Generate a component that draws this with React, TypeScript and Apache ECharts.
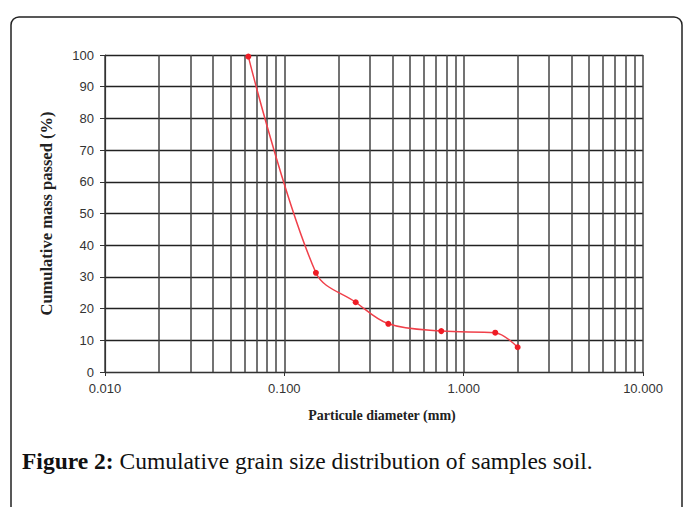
import React, { useEffect, useRef } from "react";
import * as echarts from "echarts";

const diameters = [0.063, 0.15, 0.25, 0.38, 0.75, 1.5, 2.0];
const passed = [99.5, 31.3, 22.0, 15.2, 12.9, 12.4, 7.8];
const minorGridValues = [
  0.02, 0.03, 0.04, 0.05, 0.06, 0.07, 0.08, 0.09,
  0.2, 0.3, 0.4, 0.5, 0.6, 0.7, 0.8, 0.9,
  2, 3, 4, 5, 6, 7, 8, 9,
];
const xAxisTitle = "Particule diameter (mm)";
const yAxisTitle = "Cumulative mass passed (%)";
const captionBold = "Figure 2:";
const captionText = " Cumulative grain size distribution of samples soil.";

export default function App() {
  const ref = useRef<HTMLDivElement>(null);
  useEffect(() => {
    if (!ref.current) return;
    const chart = echarts.init(ref.current, null, { renderer: "svg" });
    chart.setOption({
      animation: false,
      backgroundColor: "#fff",
      grid: { left: 105, right: 40, top: 55, bottom: 135 },
      xAxis: {
        type: "log",
        logBase: 10,
        min: 0.01,
        max: 10,
        name: xAxisTitle,
        nameLocation: "middle",
        nameGap: 36,
        nameTextStyle: {
          fontFamily: "Liberation Serif",
          fontWeight: "bold",
          fontSize: 14,
          color: "#222",
          padding: [0, 0, 0, 16],
        },
        axisLine: { show: true, lineStyle: { color: "#333", width: 1.2 } },
        axisTick: { show: true, length: 4, lineStyle: { color: "#333" } },
        axisLabel: {
          formatter: (v: number) => v.toFixed(3),
          fontFamily: "Liberation Sans",
          fontSize: 13,
          color: "#333",
          margin: 10,
        },
        splitLine: { show: true, lineStyle: { color: "#444", width: 1.5 } },
      },
      yAxis: {
        type: "value",
        min: 0,
        max: 100,
        interval: 10,
        name: yAxisTitle,
        nameLocation: "middle",
        nameGap: 50,
        nameTextStyle: {
          fontFamily: "Liberation Serif",
          fontWeight: "bold",
          fontSize: 16.5,
          color: "#222",
        },
        axisLine: { show: true, lineStyle: { color: "#333", width: 1.2 } },
        axisTick: { show: true, length: 5, lineStyle: { color: "#333" } },
        axisLabel: {
          fontFamily: "Liberation Sans",
          fontSize: 13,
          color: "#333",
          margin: 11,
        },
        splitLine: { show: true, lineStyle: { color: "#222", width: 1.3 } },
      },
      series: [
        {
          type: "line",
          data: diameters.map((d, i) => [d, passed[i]]),
          smooth: 0.35,
          symbol: "circle",
          symbolSize: 6,
          lineStyle: { color: "#f0404a", width: 1.5 },
          itemStyle: { color: "#ee1c25" },
          z: 5,
          markLine: {
            silent: true,
            symbol: "none",
            label: { show: false },
            lineStyle: { color: "#444", width: 1.5, type: "solid" },
            data: minorGridValues.map((v) => ({ xAxis: v })),
            z: 1,
          },
        },
      ],
      graphic: [
        {
          type: "rect",
          shape: { x: 11, y: 17, width: 671, height: 520, r: 8 },
          style: { fill: "none", stroke: "#222", lineWidth: 1.5 },
          silent: true,
        },
        {
          type: "text",
          left: 22,
          top: 449,
          style: {
            rich: {
              b: {
                fontFamily: "Liberation Serif",
                fontWeight: "bold",
                fontSize: 23.5,
                fill: "#111",
              },
              n: {
                fontFamily: "Liberation Serif",
                fontSize: 23.5,
                fill: "#111",
              },
            },
            text: `{b|${captionBold}}{n|${captionText}}`,
          },
        },
      ],
    });
    return () => chart.dispose();
  }, []);
  return (
    <div
      ref={ref}
      style={{ position: "absolute", left: 0, top: 0, width: 683, height: 507 }}
    />
  );
}
